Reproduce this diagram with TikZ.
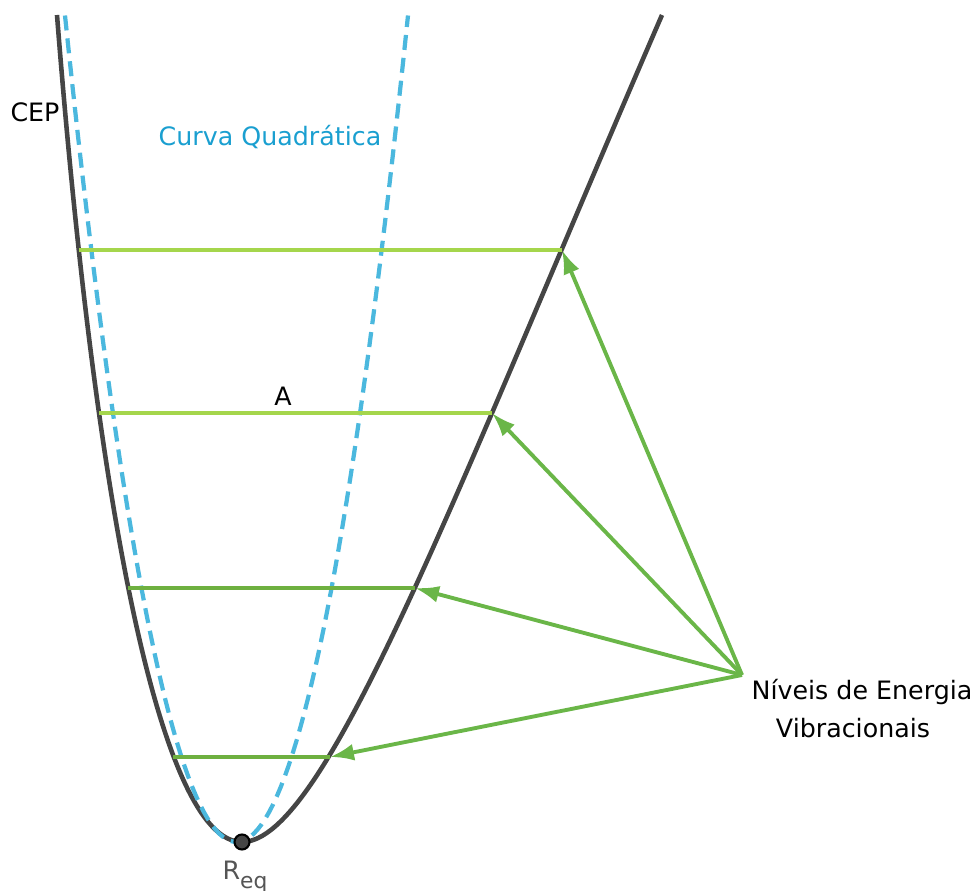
\documentclass[tikz,border=0pt]{standalone}
\usepackage{fontspec}
\setmainfont{DejaVu Sans}
\usepackage{xcolor}
\definecolor{CurveGray}{RGB}{69,69,69}
\definecolor{QuadBlue}{RGB}{75,184,222}
\definecolor{TextBlue}{RGB}{26,159,208}
\definecolor{LevelLight}{RGB}{165,214,76}
\definecolor{LevelDark}{RGB}{110,176,64}
\definecolor{ArrowGreen}{RGB}{106,182,72}
\definecolor{LabelGray}{RGB}{85,85,85}
\usepackage{tikz}
\usetikzlibrary{
  arrows.meta,
  positioning
}
\tikzset{
  % Potential energy curve
  cep/.style={draw=CurveGray, line width=1.3pt, line join=round},
  % Harmonic approximation
  quad/.style={draw=QuadBlue, line width=1.2pt, dash pattern=on 0.15cm off 0.08cm},
  % Vibrational levels
  level light/.style={draw=LevelLight, line width=1.1pt},
  level dark/.style={draw=LevelDark, line width=1.1pt},
  % Arrows
  arr/.style={-{Latex[length=0.24cm,width=0.17cm]}, draw=ArrowGreen, line width=1.1pt},
  % Minimum marker
  mindot/.style={circle, fill=CurveGray, draw=black, line width=0.6pt,
    minimum size=0.15cm, inner sep=0pt},
  % Text labels
  lbl/.style={font=\fontsize{7.2}{10.8}\selectfont, inner sep=0pt},
}

\begin{document}
\begin{tikzpicture}[x=0.01cm, y=-0.01cm]
  \useasboundingbox (0,0) rectangle (978,891);

  %% Level end points on the CEP
  \coordinate (l1) at (79,250);  \coordinate (r1) at (562,250);
  \coordinate (l2) at (99,413);  \coordinate (r2) at (492,413);
  \coordinate (l3) at (128,588); \coordinate (r3) at (415,588);
  \coordinate (l4) at (173,757); \coordinate (r4) at (330,757);
  \coordinate (eq) at (242,842);
  \coordinate (src) at (742,675);

  %% CEP
  \draw[cep] (57,15) .. controls (95,500) and (160,842) .. (eq)
    .. controls (325,842) and (452,500) .. (662,15);

  %% Quadratic curve
  \draw[quad] plot[domain=65:408, samples=90]
    (\x, {842-(0.16763*(\x-236.5))^2});

  %% Levels
  \draw[level light] (l1) -- (r1);
  \draw[level light] (l2) -- (r2);
  \draw[level dark] (l3) -- (r3);
  \draw[level dark] (l4) -- (r4);

  %% Arrows
  \foreach \i in {1,...,4}
    \draw[arr] (src) -- (r\i);

  %% Minimum
  \node[mindot] (req) at (eq) {};

  %% Labels
  \node[lbl] (ceplbl) at (35,112) {CEP};
  \node[lbl, text=TextBlue] (quadlbl) at (270,137) {Curva Quadrática};
  \node[lbl] (albl) at (283,396) {A};
  \node[lbl, align=center] (niveis) at (862,709)
    {Níveis de Energia\\Vibracionais\hspace*{0.18cm}};
  \node[lbl, text=LabelGray, below=0.1cm of req, xshift=0.03cm] (reqlbl)
    {R\raisebox{-2.6pt}{\fontsize{6.2}{6.2}\selectfont eq}};

\end{tikzpicture}
\end{document}
